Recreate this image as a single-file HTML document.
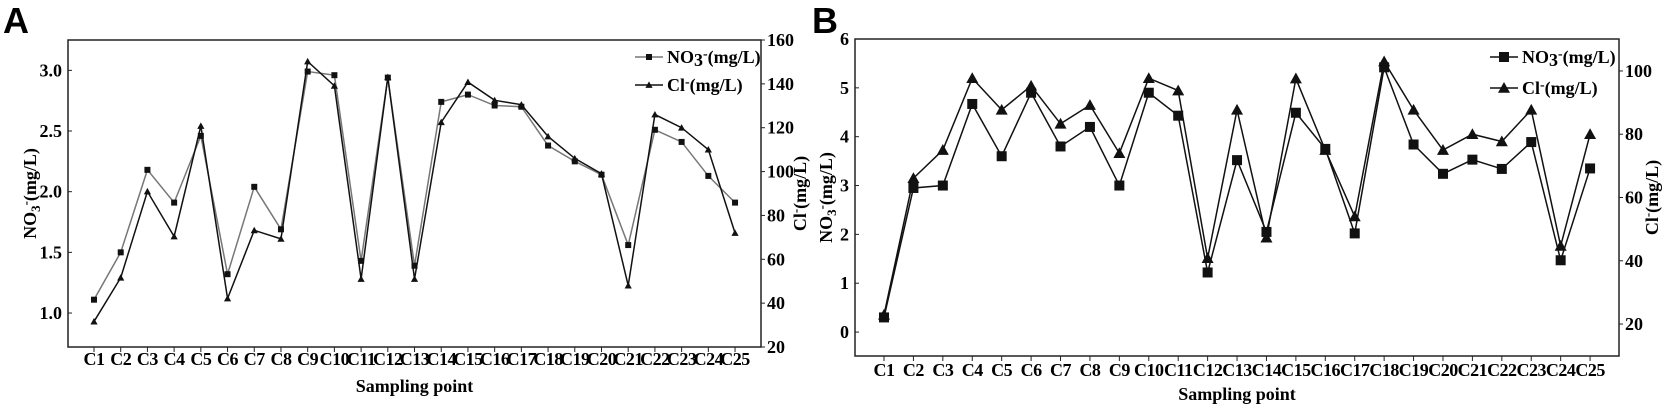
<!DOCTYPE html>
<html><head><meta charset="utf-8"><style>
body{margin:0;background:#fff;}
svg{display:block;font-family:"Liberation Serif",serif;font-weight:bold;}
</style></head><body>
<svg id="chart" width="1666" height="406" viewBox="0 0 1666 406" xmlns="http://www.w3.org/2000/svg">
<text x="3" y="33" font-family="Liberation Sans,sans-serif" font-size="36" font-weight="bold">A</text>
<text x="812" y="33" font-family="Liberation Sans,sans-serif" font-size="36" font-weight="bold">B</text>
<g id="pa"></g>
<g id="pb"></g>
</svg>
<script>
const categories=["C1","C2","C3","C4","C5","C6","C7","C8","C9","C10","C11","C12","C13","C14","C15","C16","C17","C18","C19","C20","C21","C22","C23","C24","C25"];
const no3A=[1.11,1.50,2.18,1.91,2.46,1.32,2.04,1.69,2.99,2.96,1.43,2.94,1.39,2.74,2.80,2.71,2.70,2.38,2.25,2.14,1.56,2.51,2.41,2.13,1.91];
const clA=[31.6,51.6,90.9,70.4,120.8,42.1,73.2,69.3,150.2,139.1,51.0,143.0,51.0,122.5,140.8,132.5,130.5,116,106,99,48,126,120,110,72];
const no3B=[0.3,2.95,3.0,4.67,3.6,4.9,3.8,4.2,3.0,4.9,4.43,1.22,3.52,2.05,4.49,3.75,2.02,5.42,3.84,3.24,3.53,3.34,3.89,1.47,3.35];
const clB=[22.9,66.1,75,97.7,87.7,95.3,83.3,89.2,74,97.7,93.8,40.8,87.7,47.3,97.6,75,54,103,87.7,75,80,77.7,87.7,44.7,80];
const leftTicksA=["1.0","1.5","2.0","2.5","3.0"];
const rightTicksA=["20","40","60","80","100","120","140","160"];
const leftTicksB=["0","1","2","3","4","5","6"];
const rightTicksB=["20","40","60","80","100"];
const NS="http://www.w3.org/2000/svg";
function mk(p,t,a){const e=document.createElementNS(NS,t);for(const k in a)e.setAttribute(k,a[k]);p.appendChild(e);return e;}
function panel(g,cfg){
 const {L,R,T,B,x0,dx,lmin,lmax,rmin,rmax,no3,cl,lt,rt,no3col,fs,xlY,xtY,legX,legY,ltX,rtX,ms}=cfg;
 const yl=v=>B-(v-lmin)/(lmax-lmin)*(B-T);
 const yr=v=>B-(v-rmin)/(rmax-rmin)*(B-T);
 const xs=i=>x0+i*dx;
 let r=mk(g,'rect',{x:L,y:T,width:R-L,height:B-T,fill:'none',stroke:'#222','stroke-width':1.5});
 
 
 lt.forEach(s=>{const y=yl(parseFloat(s));
  mk(g,'line',{x1:L,x2:L+4,y1:y,y2:y,stroke:'#222'});
  const t=mk(g,'text',{x:L-6,y:y+6,'text-anchor':'end','font-size':fs});t.textContent=s;
  
  });
 rt.forEach(s=>{const y=yr(parseFloat(s));
  mk(g,'line',{x1:R,x2:R+4,y1:y,y2:y,stroke:'#222'});
  const t=mk(g,'text',{x:R+6,y:y+6,'font-size':fs});t.textContent=s;
  
  });
 categories.forEach((c,i)=>{const x=xs(i);
  mk(g,'line',{x1:x,x2:x,y1:B,y2:B+5,stroke:'#222'});
  const t=mk(g,'text',{x:x,y:xlY,'text-anchor':'middle','font-size':fs,'letter-spacing':'-0.5'});t.textContent=c;
  
  });
 let t=mk(g,'text',{x:(L+R)/2,y:xtY,'text-anchor':'middle','font-size':fs});t.textContent='Sampling point';
 
 
 t=mk(g,'text',{transform:`translate(${ltX},${(T+B)/2}) rotate(-90)`,'text-anchor':'middle','font-size':fs});
 t.innerHTML='NO<tspan font-size="'+(fs-5)+'" dy="4">3</tspan><tspan font-size="'+(fs-5)+'" dy="-10">-</tspan><tspan dy="6">(mg/L)</tspan>';
 
 
 t=mk(g,'text',{transform:`translate(${rtX},${(T+B)/2}) rotate(-90)`,'text-anchor':'middle','font-size':fs});
 t.innerHTML='Cl<tspan font-size="'+(fs-5)+'" dy="-6">-</tspan><tspan dy="6">(mg/L)</tspan>';
 
 
 let p=mk(g,'polyline',{points:no3.map((v,i)=>xs(i)+','+yl(v)).join(' '),fill:'none',stroke:no3col,'stroke-width':1.5});
 
 
 p=mk(g,'polyline',{points:cl.map((v,i)=>xs(i)+','+yr(v)).join(' '),fill:'none',stroke:'#111','stroke-width':1.5});
 
 
 no3.forEach((v,i)=>{const m=mk(g,'rect',{x:xs(i)-ms/2,y:yl(v)-ms/2,width:ms,height:ms,fill:'#111'});
  
  });
 cl.forEach((v,i)=>{const x=xs(i),y=yr(v),h=ms*0.6;
  const m=mk(g,'polygon',{points:`${x},${y-h} ${x-h},${y+h*0.8} ${x+h},${y+h*0.8}`,fill:'#111'});
  
  });
 const lg=mk(g,'g',{});
 
 
 mk(lg,'line',{x1:legX,x2:legX+28,y1:legY,y2:legY,stroke:no3col,'stroke-width':1.4});
 mk(lg,'rect',{x:legX+14-ms/2,y:legY-ms/2,width:ms,height:ms,fill:'#111'});
 t=mk(lg,'text',{x:legX+32,y:legY+6,'font-size':fs});t.innerHTML='NO<tspan dy="3">3</tspan><tspan dy="-8" font-size="'+(fs-4)+'">-</tspan><tspan dy="5">(mg/L)</tspan>';
 
 
 const y2=legY+cfg.legGap;
 mk(lg,'line',{x1:legX,x2:legX+28,y1:y2,y2:y2,stroke:'#111','stroke-width':1.4});
 const h=ms*0.6;
 mk(lg,'polygon',{points:`${legX+14},${y2-h} ${legX+14-h},${y2+h*0.8} ${legX+14+h},${y2+h*0.8}`,fill:'#111'});
 t=mk(lg,'text',{x:legX+32,y:y2+6,'font-size':fs});t.innerHTML='Cl<tspan dy="-5" font-size="'+(fs-4)+'">-</tspan><tspan dy="5">(mg/L)</tspan>';
 
 
}
panel(document.getElementById('pa'),{L:68,R:761,T:40,B:347,x0:94,dx:26.71,lmin:0.72,lmax:3.25,rmin:20,rmax:160,no3:no3A,cl:clA,lt:leftTicksA,rt:rightTicksA,no3col:'#777',fs:18,xlY:365,xtY:392,legX:635,legY:57,legGap:28,ltX:36,rtX:806,ms:6});
panel(document.getElementById('pb'),{L:855,R:1619,T:39,B:356,x0:884,dx:29.42,lmin:-0.49,lmax:6,rmin:9.9,rmax:110.1,no3:no3B,cl:clB,lt:leftTicksB,rt:rightTicksB,no3col:'#111',fs:18,xlY:376,xtY:400,legX:1490,legY:57,legGap:31,ltX:832,rtX:1658,ms:10});
</script>
</body></html>
